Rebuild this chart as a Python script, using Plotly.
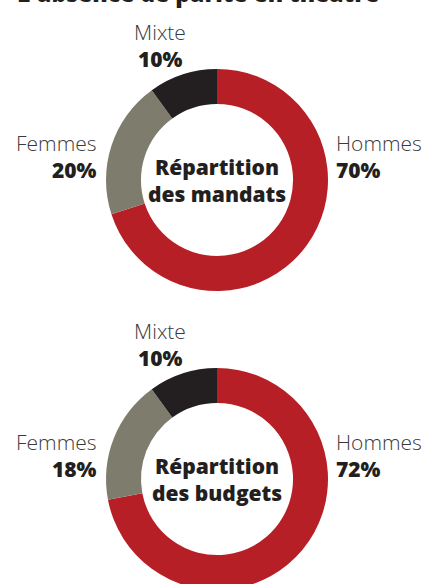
import plotly.graph_objects as go

# ---- data ----
categories = ["Hommes", "Femmes", "Mixte"]
mandats = [70, 20, 10]
budgets = [72, 18, 10]
chart_titles = ["Répartition<br>des mandats", "Répartition<br>des budgets"]
main_title = "L'absence de parité en théâtre"

colors = ["#B71F26", "#7E7D6D", "#231F20"]

W, H = 422, 596

def fx(x):
    return x / W

def fy(y):
    return 1 - y / H

R = 111
centers = [(217, 180), (217, 479)]

fig = go.Figure()
for (cx, cy), vals in zip(centers, [mandats, budgets]):
    fig.add_trace(go.Pie(
        labels=categories, values=vals, hole=0.685, sort=False,
        direction="clockwise", rotation=0,
        marker=dict(colors=colors, line=dict(width=0)),
        textinfo="none", hoverinfo="label+percent", showlegend=False,
        domain=dict(x=[fx(cx - R), fx(cx + R)], y=[fy(cy + R), fy(cy - R)]),
    ))

FONT = "Open Sans"
ann = []
# title, partly cut at top
ann.append(dict(text=main_title, x=fx(197.5), y=fy(11), xanchor="center", yanchor="bottom",
                font=dict(family=FONT, size=23, color="#231F20", weight=800)))

label_pos = {
    "Hommes": (334, "left"),
    "Femmes": (99, "right"),
    "Mixte": (160, "center"),
}
for (cx, cy), vals, ctitle in zip(centers, [mandats, budgets], chart_titles):
    dy = cy - 180
    ypos = {"Hommes": 143, "Femmes": 143, "Mixte": 32}
    for cat, v in zip(categories, vals):
        x, anchor = label_pos[cat]
        y = ypos[cat] + dy
        ann.append(dict(text=cat, x=fx(x), y=fy(y), xanchor=anchor, yanchor="middle",
                        font=dict(family=FONT, size=21, color="#3A3A3A", weight=300)))
        ann.append(dict(text=f"{v}%", x=fx(x), y=fy(y + 27), xanchor=anchor, yanchor="middle",
                        font=dict(family=FONT, size=21, color="#231F20", weight=800)))
    ann.append(dict(text=ctitle, x=fx(cx), y=fy(cy), xanchor="center", yanchor="middle",
                    font=dict(family=FONT, size=21, color="#231F20", weight=800)))

for a in ann:
    a.update(xref="paper", yref="paper", showarrow=False)

fig.update_layout(
    width=W, height=H, margin=dict(l=0, r=0, t=0, b=0),
    paper_bgcolor="white", plot_bgcolor="white",
    annotations=ann,
)

fig.write_html("out.html", config={"displayModeBar": False},
               post_script="document.body.style.margin='0';document.body.style.overflow='hidden';document.documentElement.style.overflow='hidden';")
